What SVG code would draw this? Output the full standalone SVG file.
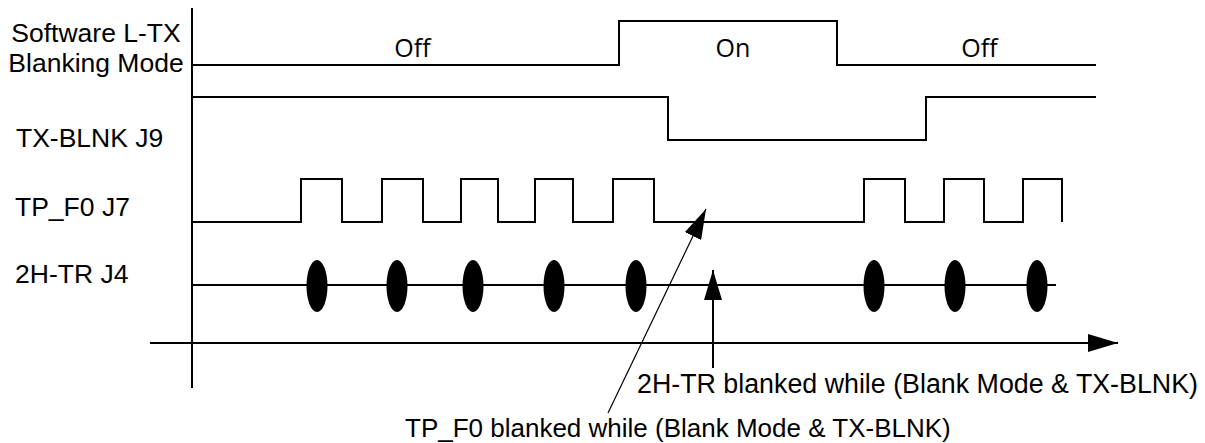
<svg xmlns="http://www.w3.org/2000/svg" width="1205" height="443" viewBox="0 0 1205 443">
  <style>
    .bg { fill: #ffffff; }
    .lbl { font-family: "Liberation Sans", Arial, sans-serif; font-size: 26.5px; fill: #000000; }
    .note { font-family: "Liberation Sans", Arial, sans-serif; font-size: 26.8px; fill: #000000; }
    .note2 { font-family: "Liberation Sans", Arial, sans-serif; font-size: 26px; fill: #000000; }
    .state { font-family: "Open Sans", "Liberation Sans", sans-serif; font-size: 25px; fill: #000000; text-anchor: middle; }
    .wave { fill: none; stroke: #000000; stroke-width: 2; stroke-linejoin: miter; }
    .axis { fill: none; stroke: #000000; stroke-width: 2; }
    .thin { fill: none; stroke: #000000; stroke-width: 1.2; }
    .dot { fill: #000000; }
  </style>
  <defs>
    <marker id="arrow" viewBox="0 0 30 18" refX="30" refY="9" markerWidth="30" markerHeight="18" markerUnits="userSpaceOnUse" orient="auto">
      <path d="M0,0 L30,9 L0,18 Z" fill="#000000"/>
    </marker>
  </defs>
  <rect class="bg" x="0" y="0" width="1205" height="443"/>

  <g id="axes">
    <path class="axis" d="M192,8 V388"/>
    <path class="axis" d="M150,343 H1118" marker-end="url(#arrow)"/>
  </g>

  <g id="mode">
    <text class="lbl" x="96" y="42" text-anchor="middle">Software L-TX</text>
    <text class="lbl" x="96" y="72" text-anchor="middle">Blanking Mode</text>
    <path class="wave" d="M192,65 H619 V21 H837 V65 H1096"/>
    <text class="state" x="412.5" y="57">Off</text>
    <text class="state" x="733" y="57">On</text>
    <text class="state" x="979.5" y="57">Off</text>
  </g>

  <g id="txblnk">
    <text class="lbl" x="16" y="147">TX-BLNK J9</text>
    <path class="wave" d="M192,97 H668 V140 H926 V97 H1096"/>
  </g>

  <g id="tpf0">
    <text class="lbl" x="15" y="216">TP_F0 J7</text>
    <path class="wave" d="M192,222 H301 V179 H342 V222 H382 V179 H423 V222 H461 V179 H498 V222 H535 V179 H573 V222 H613 V179 H654 V222 H864 V179 H905 V222 H944 V179 H984 V222 H1023 V179 H1062 V222"/>
  </g>

  <g id="twohtr">
    <text class="lbl" x="15" y="283">2H-TR J4</text>
    <path class="wave" d="M192,285 H1056"/>
    <ellipse class="dot" cx="317" cy="286" rx="10.5" ry="26"/>
    <ellipse class="dot" cx="397" cy="286" rx="10.5" ry="26"/>
    <ellipse class="dot" cx="473" cy="286" rx="10.5" ry="26"/>
    <ellipse class="dot" cx="554" cy="286" rx="10.5" ry="26"/>
    <ellipse class="dot" cx="636" cy="286" rx="10.5" ry="26"/>
    <ellipse class="dot" cx="874" cy="286" rx="10.5" ry="26"/>
    <ellipse class="dot" cx="955" cy="286" rx="10.5" ry="26"/>
    <ellipse class="dot" cx="1037" cy="286" rx="10.5" ry="26"/>
  </g>

  <g id="connectors">
    <path class="thin" d="M608,413 L706,209" marker-end="url(#arrow)"/>
    <path class="axis" d="M713,368 V270" marker-end="url(#arrow)"/>
  </g>

  <g id="note-2htr">
    <text class="note" x="637" y="393">2H-TR blanked while (Blank Mode &amp; TX-BLNK)</text>
  </g>
  <g id="note-tpf0">
    <text class="note2" x="405" y="437">TP_F0 blanked while (Blank Mode &amp; TX-BLNK)</text>
  </g>
</svg>
